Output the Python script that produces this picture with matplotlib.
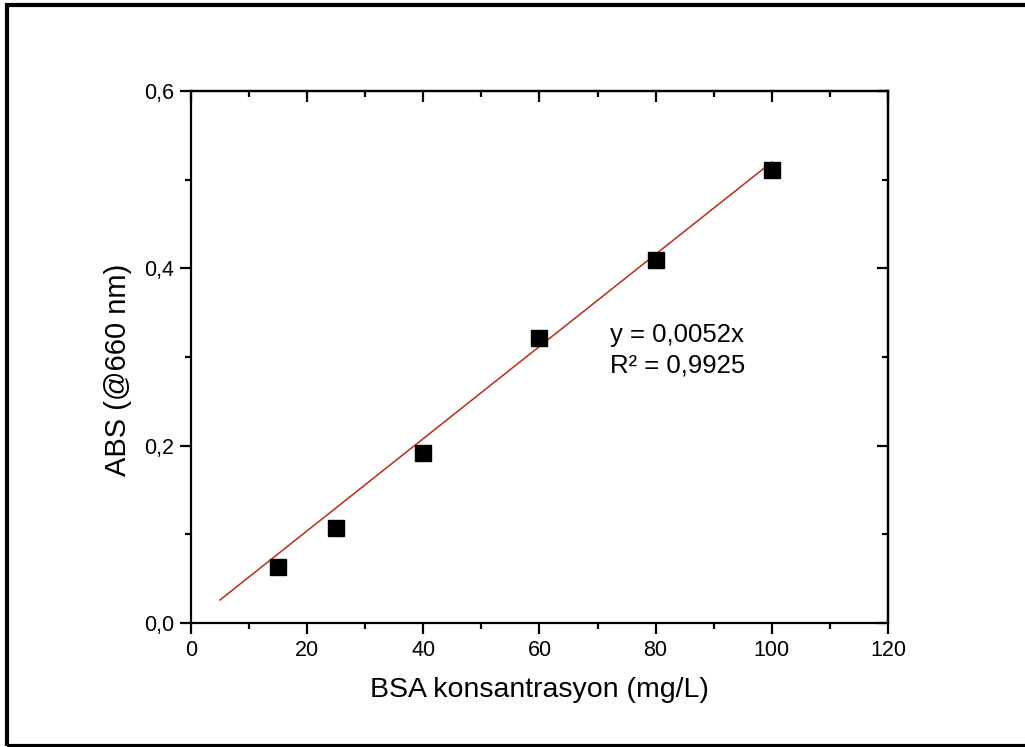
import numpy as np
import matplotlib
matplotlib.use("Agg")
import matplotlib.pyplot as plt
import matplotlib.ticker as ticker
from matplotlib.patches import Rectangle

plt.rcParams.update({
    'font.family': ['Liberation Sans', 'DejaVu Sans'],
    'font.size': 15,
})

# BSA calibration data (mg/L vs absorbance at 660 nm)
bsa_conc = [15, 25, 40, 60, 80, 100]
absorbance = [0.063, 0.107, 0.192, 0.321, 0.410, 0.511]
fit_slope = 0.0052
fit_r2 = 0.9925
fit_range = [5, 100]

fig = plt.figure(figsize=(10.25, 7.47), dpi=100)
ax = fig.add_axes([0.1863, 0.166, 0.68, 0.712])

fit_x = np.array(fit_range, dtype=float)
ax.plot(fit_x, fit_slope * fit_x, color='#bb2a18', lw=1.1, zorder=2)
ax.plot(bsa_conc, absorbance, 's', color='black', ms=11, zorder=3)

ax.set_xlim(0, 120)
ax.set_ylim(0, 0.6)
ax.xaxis.set_major_locator(ticker.MultipleLocator(20))
ax.xaxis.set_minor_locator(ticker.MultipleLocator(10))
ax.yaxis.set_major_locator(ticker.MultipleLocator(0.2))
ax.yaxis.set_minor_locator(ticker.MultipleLocator(0.1))
ax.yaxis.set_major_formatter(ticker.FuncFormatter(lambda v, p: f'{v:.1f}'.replace('.', ',')))

for s in ax.spines.values():
    s.set_linewidth(1.6)

ax.tick_params(which='both', direction='out', width=1.6, labelsize=15.5, pad=4)
ax.tick_params(which='major', length=8)
ax.tick_params(which='minor', length=4)

# inward ticks on top and right
top = ax.secondary_xaxis('top')
top.xaxis.set_major_locator(ticker.MultipleLocator(20))
top.xaxis.set_minor_locator(ticker.MultipleLocator(10))
top.tick_params(which='both', direction='in', width=1.6, labeltop=False)
top.tick_params(which='major', length=8)
top.tick_params(which='minor', length=4)
top.spines['top'].set_linewidth(1.6)
right = ax.secondary_yaxis('right')
right.yaxis.set_major_locator(ticker.MultipleLocator(0.2))
right.yaxis.set_minor_locator(ticker.MultipleLocator(0.1))
right.tick_params(which='both', direction='in', width=1.6, labelright=False)
right.tick_params(which='major', length=8)
right.tick_params(which='minor', length=4)
right.spines['right'].set_linewidth(1.6)

ax.set_xlabel('BSA konsantrasyon (mg/L)', fontsize=20.5, labelpad=12)
ax.set_ylabel('ABS (@660 nm)', fontsize=21, labelpad=10)
ax.yaxis.set_label_coords(-0.085, 0.476)

ax.text(0.601, 0.541, f'y = {fit_slope}x'.replace('.', ','), transform=ax.transAxes,
        fontsize=18.5, va='center')
ax.text(0.601, 0.485, f'R² = {fit_r2}'.replace('.', ','), transform=ax.transAxes,
        fontsize=18.5, va='center')

# outer frame around the whole figure
fig.patches.append(Rectangle((7 / 1025, 1 / 747), 1.05, 741 / 747, transform=fig.transFigure,
                             fill=False, edgecolor='black', lw=3))

fig.savefig('out.png', dpi=100)
